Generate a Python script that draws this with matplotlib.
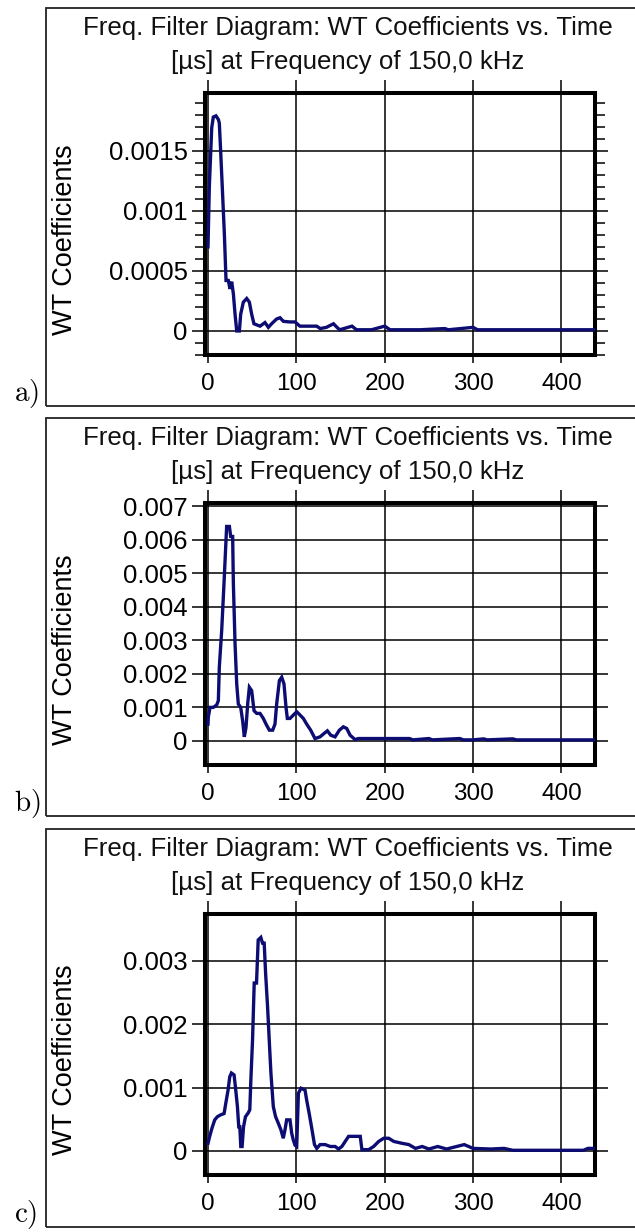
import matplotlib
matplotlib.use("Agg")
import matplotlib.pyplot as plt
from matplotlib.patches import Rectangle
from matplotlib.ticker import MultipleLocator

plt.rcParams['font.family'] = ['Liberation Sans', 'DejaVu Sans']
plt.rcParams['mathtext.fontset'] = 'cm'

# ---------------- data ----------------
title_line1 = "Freq. Filter Diagram: WT Coefficients vs. Time"
title_line2 = "[µs] at Frequency of 150,0 kHz"
y_label = "WT Coefficients"
panel_labels = ["a)", "b)", "c)"]
x_ticks = [0, 100, 200, 300, 400]
x_ticklabels = ["0", "100", "200", "300", "400"]

a_t = [0, 1.5, 4.2, 6, 9, 11.7, 12.8, 14.3, 16.2, 18.5, 20.4, 23, 24.9, 26.8, 28.7,
       30.6, 32.5, 35.5, 37, 40, 43.8, 46.8, 49.4, 52, 58.9, 64.5, 68.3, 72, 77.7,
       81.5, 85.3, 92.8, 98.5, 104, 123, 127, 134, 142, 146, 149, 163, 168, 185,
       200, 206, 240, 268, 272, 300, 305, 440]
a_v = [0.0007, 0.0012, 0.00169, 0.00178, 0.00179, 0.00176, 0.00173, 0.0015, 0.00119,
       0.00081, 0.00042, 0.00042, 0.00035, 0.00041, 0.00031, 0.00014, 0.0, 0.0,
       0.00014, 0.00024, 0.00027, 0.00024, 0.00014, 0.00006, 0.00004, 0.00007,
       0.00003, 0.00006, 0.0001, 0.00011, 0.00008, 0.000075, 0.000075, 0.00004,
       0.00004, 0.00002, 0.00003, 0.00006, 0.00003, 0.00001, 0.00004, 0.00001,
       0.00001, 0.00004, 0.00001, 0.00001, 0.00002, 0.00001, 0.00003, 0.00001,
       0.00001]
a_yticks = [0, 0.0005, 0.001, 0.0015]
a_yticklabels = ["0", "0.0005", "0.001", "0.0015"]

b_t = [0, 0.4, 2.3, 6, 9.8, 11.7, 12.8, 15.5, 18.1, 21.1, 24.2, 25.7, 27.9, 28.7,
       30.6, 32.5, 34.3, 37, 39.2, 41.1, 43, 44.9, 46.8, 49.4, 52.1, 55.1, 58.9,
       62.6, 65.7, 69.4, 73.2, 75.8, 77.7, 80.8, 83.4, 86, 88.3, 89.8, 92.8, 96.6,
       100.4, 104.2, 107.9, 111.7, 116.2, 121.1, 126.8, 131.3, 135.1, 138.9, 143.8,
       148.7, 153.2, 157, 160.8, 166.4, 170.2, 200, 228, 232, 250, 254, 285, 289,
       300, 312, 316, 345, 349, 360, 440]
b_v = [0.0005, 0.00072, 0.001, 0.001, 0.00107, 0.0012, 0.0022, 0.0033, 0.0047,
       0.0064, 0.0064, 0.0061, 0.0061, 0.0047, 0.0029, 0.0017, 0.0011, 0.001,
       0.0006, 0.00012, 0.0004, 0.0011, 0.0016, 0.0015, 0.0009, 0.00082, 0.00082,
       0.00067, 0.0005, 0.00032, 0.00032, 0.0005, 0.0011, 0.0018, 0.0019, 0.0017,
       0.001, 0.00067, 0.00067, 0.00077, 0.00087, 0.00077, 0.00067, 0.0005,
       0.00032, 0.00007, 0.00012, 0.00022, 0.0003, 0.00017, 0.00012, 0.00032,
       0.00042, 0.00037, 0.00017, 0.00004, 0.00007, 0.00007, 0.00007, 0.00003,
       0.00007, 0.00003, 0.00007, 0.00003, 0.00003, 0.00006, 0.00003, 0.00006,
       0.00003, 0.00003, 0.00003]
b_yticks = [0, 0.001, 0.002, 0.003, 0.004, 0.005, 0.006, 0.007]
b_yticklabels = ["0", "0.001", "0.002", "0.003", "0.004", "0.005", "0.006", "0.007"]

c_t = [0, 1.9, 4.5, 7.6, 10.6, 14.4, 18.2, 20.1, 22.7, 24.6, 26.5, 29.5, 31.1, 33.3,
       34.8, 36, 37.1, 38.6, 40.2, 42.4, 45.5, 47.3, 48.5, 50.4, 52.3, 54.9, 56.8,
       59.8, 61.7, 63.6, 65.2, 67.4, 69.3, 71.2, 73.9, 76.5, 79.5, 82.6, 85.2, 87.1,
       89, 92.8, 94.7, 96.6, 98.5, 100.4, 102.3, 105.3, 109.8, 111.7, 114.4, 117.4,
       120.5, 123.1, 126.9, 132.6, 138.3, 143.9, 147.7, 151.5, 155.3, 159.1, 166.7,
       172.3, 174.2, 181.8, 187.5, 193.2, 198.9, 204.5, 210.2, 219.7, 227.3, 234.8,
       242.4, 250, 260, 270, 290, 300, 320, 335, 345, 425, 430, 440]
c_v = [0.00012, 0.00023, 0.00036, 0.00049, 0.00054, 0.00057, 0.00059, 0.00075,
       0.00096, 0.00117, 0.00123, 0.0012, 0.001, 0.0007, 0.00038, 0.00038, 0.00007,
       0.00007, 0.00038, 0.00054, 0.0006, 0.00065, 0.00112, 0.00175, 0.00265,
       0.00265, 0.00333, 0.00337, 0.00328, 0.00328, 0.0028, 0.00228, 0.00175,
       0.00123, 0.0007, 0.00054, 0.00044, 0.00033, 0.0002, 0.00033, 0.00049,
       0.00049, 0.00028, 0.00017, 0.00009, 0.00007, 0.00091, 0.00099, 0.00096,
       0.0008, 0.0006, 0.00036, 0.0001, 0.00004, 0.0001, 0.0001, 0.00007, 0.00007,
       0.00003, 0.00007, 0.00015, 0.00023, 0.00023, 0.00023, 0.00002, 0.00002,
       0.00007, 0.00015, 0.0002, 0.0002, 0.00015, 0.00012, 0.0001, 0.00004,
       0.00007, 0.00003, 0.00007, 0.00003, 0.0001, 0.00004, 0.00003, 0.00004,
       0.00001, 0.00001, 0.00004, 0.00004]
c_yticks = [0, 0.001, 0.002, 0.003]
c_yticklabels = ["0", "0.001", "0.002", "0.003"]

# ---------------- layout ----------------
W, H = 635, 1232
fig = plt.figure(figsize=(W / 100, H / 100), dpi=100)
fig.patch.set_facecolor('white')

panels = [
    dict(t=a_t, v=a_v, yt=a_yticks, ytl=a_yticklabels, ylim=(-0.0002, 0.00198),
         top=93, bottom=355, box=(8, 406), minor=0.0001),
    dict(t=b_t, v=b_v, yt=b_yticks, ytl=b_yticklabels, ylim=(-0.00072, 0.0071),
         top=503, bottom=765, box=(418, 816), minor=None),
    dict(t=c_t, v=c_v, yt=c_yticks, ytl=c_yticklabels, ylim=(-0.00038, 0.00374),
         top=914, bottom=1175, box=(829, 1227), minor=None),
]

left_px, right_px = 205, 595
FS_T = 18.6
FS_X = 17.5
FS_Y = 18.5
line_col = '#0c0c72'

for i, p in enumerate(panels):
    by0, by1 = p['box']
    fig.patches.append(Rectangle((46 / W, 1 - by1 / H), (W + 10 - 46) / W, (by1 - by0) / H,
                                 transform=fig.transFigure, fill=False,
                                 edgecolor='#222222', lw=1.3, clip_on=False))
    fig.text(14 / W, 1 - (by1 - 5) / H, r'$\mathrm{' + panel_labels[i] + '}$',
             fontsize=21, ha='left', va='baseline')
    fig.text(348 / W, 1 - (by0 + 20) / H, title_line1, fontsize=FS_T,
             ha='center', va='center', color='#111111')
    fig.text(348 / W, 1 - (by0 + 54) / H, title_line2, fontsize=FS_T,
             ha='center', va='center', color='#111111')

    ax = fig.add_axes([left_px / W, 1 - p['bottom'] / H, (right_px - left_px) / W,
                       (p['bottom'] - p['top']) / H])
    ax.plot(p['t'], p['v'], color=line_col, lw=2.4, solid_joinstyle='miter', zorder=3)
    ax.set_xlim(-3.4, 438)
    ax.set_ylim(*p['ylim'])
    ax.set_xticks(x_ticks, x_ticklabels)
    ax.set_yticks(p['yt'], p['ytl'])
    ax.grid(True, color='black', lw=1.1)
    for s in ax.spines.values():
        s.set_linewidth(2.9)
        s.set_color('black')
    ax.tick_params(axis='x', which='major', direction='out', length=6, width=1.1,
                   pad=7, labelsize=FS_X, bottom=True, top=False)
    ax.tick_params(axis='y', which='major', direction='out', length=9.5, width=1.1,
                   pad=3, labelsize=FS_Y, left=True, right=True)
    if p['minor']:
        ax.yaxis.set_minor_locator(MultipleLocator(p['minor']))
        ax.tick_params(axis='y', which='minor', direction='out', length=7, width=1.1,
                       left=True, right=True)
    sec = ax.secondary_xaxis('top')
    sec.set_xticks(x_ticks)
    sec.tick_params(axis='x', direction='out', length=9.5, width=1.1, labeltop=False)
    sec.spines['top'].set_visible(False)
    ax.set_ylabel(y_label, fontsize=19.5)
    ax.yaxis.set_label_coords(-0.326, 0.44)

fig.savefig('out.png', dpi=100)
